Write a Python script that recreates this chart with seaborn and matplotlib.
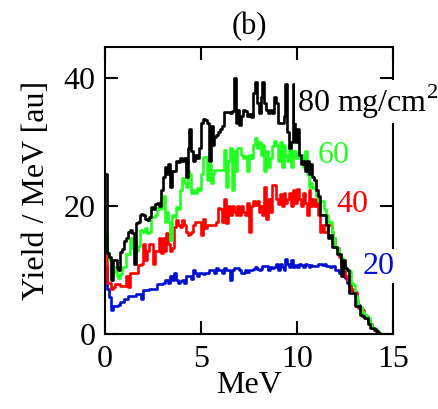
import numpy as np
import pandas as pd
import matplotlib
matplotlib.use("Agg")
import matplotlib.pyplot as plt
import seaborn as sns

# Energy bin starts (MeV), 0.1 MeV bins
energy = [round(0.1 * i, 1) for i in range(143)]

yield_80 = [25, 12.6, 12, 8.4, 11.6, 11.6, 10.3, 10, 12.8, 13.2,
            14.5, 15, 16, 16.3, 15.8, 11, 17.3, 17.5, 18.6, 18.8,
            18.6, 18, 17.8, 18.2, 19.8, 19.5, 20.3, 20.5, 20, 22.5,
            24.5, 26, 25, 26.5, 23, 25.5, 25.5, 27, 26.8, 27.5,
            27, 27.5, 24.5, 29, 32, 28.5, 27, 28, 27.5, 29,
            33, 33.5, 33.4, 33, 27, 32.5, 29.5, 30.8, 31, 31.5,
            32, 32.5, 34.7, 34.7, 34.7, 34.5, 34.8, 40, 33, 35,
            32.6, 34, 35, 34.8, 34, 34.3, 33.8, 37.6, 39.4, 36,
            34.5, 37, 39.4, 36, 35, 34.5, 35, 34.5, 37, 36,
            33, 33, 33, 34, 39, 31.6, 29, 30, 39, 30,
            32, 28, 26.5, 27, 25.5, 27, 25, 26.5, 24.5, 24,
            22.5, 21.5, 18.6, 18.6, 18.6, 17, 15, 15.5, 13.6, 13.6,
            13.6, 12.5, 12.5, 9, 11.5, 10.3, 10, 6.4, 6.4, 6.4,
            4.3, 4.3, 4.3, 3, 2.8, 2.5, 2.5, 1.5, 1, 1,
            0.8, 0.5, 0.2]

yield_60 = [15.4, 12.6, 11.6, 11.6, 10.5, 9.7, 9, 8.8, 9.3, 10.5,
            10.5, 12.5, 12.5, 15, 13.5, 14.3, 13, 13.8, 16.2, 16.2,
            16, 16.5, 15.8, 16, 18.3, 18.3, 18.5, 19.7, 19.5, 19.7,
            21.6, 17.5, 19, 17.5, 14.7, 18.5, 18.3, 19.8, 19.5, 22.5,
            24.4, 23.5, 23, 25.5, 25, 22, 22.5, 22, 22.8, 22.5,
            25, 27.6, 27.6, 24, 26.5, 23.5, 25, 25.6, 25.6, 25.6,
            25.6, 25.6, 28.7, 23, 27, 29, 22.5, 28.6, 25.5, 29,
            29, 28, 27.5, 27.8, 25.5, 28, 27.5, 29.5, 30.6, 29,
            30, 28, 29.5, 25.5, 28.5, 26, 27.5, 29.3, 30.2, 29.5,
            27, 30, 26, 29.5, 28, 27, 29.5, 26, 28.5, 27.5,
            28.6, 27.5, 28, 26, 28.5, 25, 23, 23.5, 22.8, 23,
            21.5, 20.8, 20.8, 20.8, 19.5, 18.6, 17.5, 17.5, 16, 15,
            13.6, 13.5, 12.5, 11.8, 10.8, 10.2, 10, 9.8, 8, 7.7,
            6, 5.5, 4.4, 4.2, 3.5, 3, 2.8, 2.5, 1.5, 1,
            1, 0.7, 0.3]

yield_40 = [15, 8, 8, 7, 7.3, 7.8, 7.8, 7.8, 7.5, 7.5,
            7.5, 9, 7.3, 9.5, 9.5, 9.5, 9.5, 10.8, 10.8, 11,
            14, 11.5, 13, 14, 14, 11, 13, 13, 15, 12.6,
            15, 13, 15.8, 14, 13, 13.5, 16.7, 17.8, 17, 16.7,
            17.8, 17, 16, 15.4, 15.6, 16, 17, 17.5, 17.5, 17.5,
            15.4, 17.9, 16.5, 17, 17, 17, 17, 17, 17.5, 19.7,
            19.5, 17.5, 21, 17.3, 20, 18.6, 20, 19, 18.6, 20,
            18.6, 20, 19, 18.6, 20.5, 16, 20, 20.8, 20.2, 20.8,
            19, 20, 18.6, 23, 18, 21, 19, 23.2, 23.2, 21,
            20.3, 21.8, 20, 22, 20.5, 21, 22, 20, 22.5, 20.5,
            22.7, 21, 20, 22, 20.5, 18.6, 22.5, 20, 21, 20,
            21, 18.5, 16, 17, 16, 16, 17, 17, 16, 15,
            13.6, 13.5, 12, 11, 9.8, 9, 8.5, 8, 7, 6.5,
            6.5, 5, 4, 3.7, 3.7, 2.8, 2.8, 2, 1.5, 1,
            0.7, 0.4, 0.2]

yield_20 = [10.5, 7, 5.8, 3.75, 4.4, 4.4, 4.4, 4.6, 5, 5,
            5.5, 5.5, 6, 6, 6, 6, 6.3, 6.3, 6.3, 5.5,
            6.8, 6.8, 6.8, 7, 7, 7, 7, 7.8, 7.8, 7.8,
            8, 8.5, 8.5, 8, 9, 8.5, 9.5, 8.5, 8, 8.2,
            8.5, 7.9, 9, 9, 9, 8.6, 10, 9.5, 9, 9.5,
            9.5, 9.3, 9.5, 9.5, 10, 10, 10, 9.5, 10.3, 10,
            10, 9.5, 10.3, 10, 10, 8.5, 10, 10.3, 10.3, 10.3,
            10, 9.5, 9.5, 10, 9.7, 10, 10, 10.2, 10.5, 10.2,
            10, 10.2, 10.6, 10.6, 10.6, 10, 10.4, 10.3, 10.5, 11,
            10, 11, 10.4, 10, 11.7, 11, 10.5, 11.5, 10.5, 10.8,
            10.5, 11, 10.8, 10.5, 11, 10.8, 10.5, 10.8, 10.6, 10.6,
            10.6, 11, 11, 10.8, 11, 10.6, 10.6, 10.4, 10.6, 10.6,
            10, 10, 9.6, 9.5, 9, 8.8, 8, 7.5, 6.8, 6.5,
            6, 5, 4.5, 4, 3.5, 3, 2.5, 2, 1.5, 1,
            0.7, 0.4, 0.2]

series_labels = ["20", "40", "60", "80 mg/cm$^2$"]
series_colors = ["#0010d0", "#ff0000", "#22ff22", "#000000"]
x_ticks = [0, 5, 10, 15]
y_ticks = [0, 20, 40]

sns.set_theme(style="ticks")
plt.rcParams["font.family"] = ["Liberation Serif", "DejaVu Serif"]
plt.rcParams["mathtext.fontset"] = "custom"
plt.rcParams["mathtext.rm"] = "Liberation Serif"
plt.rcParams["text.color"] = "black"
plt.rcParams["axes.labelcolor"] = "black"
plt.rcParams["xtick.color"] = "black"
plt.rcParams["ytick.color"] = "black"

FS = 23

fig = plt.figure(figsize=(4.39, 4.09), dpi=100)
ax = fig.add_axes([105 / 439, 1 - 334 / 409, 288 / 439, 287 / 409])

edges = energy + [round(energy[-1] + 0.1, 1)]
for vals, col in zip([yield_20, yield_40, yield_60, yield_80], series_colors):
    df = pd.DataFrame({"E": edges, "Y": list(vals) + [0.0]})
    sns.lineplot(data=df, x="E", y="Y", ax=ax, color=col, lw=1.9,
                 drawstyle="steps-post", estimator=None, sort=False)

ax.set_xlim(0, 15)
ax.set_ylim(0, 44.8)
ax.set_xticks(x_ticks)
ax.set_yticks(y_ticks)
ax.set_xticklabels([str(t) for t in x_ticks])
ax.set_yticklabels([str(t) for t in y_ticks])
ax.tick_params(direction="in", length=9.5, width=1.5, labelsize=FS,
               top=True, right=True, pad=7, colors="black")
ax.tick_params(axis="x", pad=8)
for s in ax.spines.values():
    s.set_linewidth(1.5)
    s.set_color("black")
ax.set_xlabel("MeV", fontsize=FS, labelpad=-2, color="black")
ax.set_ylabel("Yield / MeV [au]", fontsize=FS, labelpad=9, color="black")
ax.set_title("(b)", fontsize=FS - 1, pad=9, color="black")

bbox = dict(facecolor="white", edgecolor="none", pad=1.5)
label_pos = [(13.4, 10.6), (12.05, 20.2), (11.05, 27.8), (10.0, 36.3)]
for lab, col, (ex, ey) in zip(series_labels, series_colors, label_pos):
    ax.text(ex, ey, lab, color=col, fontsize=FS, ha="left", va="center",
            bbox=bbox, zorder=5, clip_on=False)

fig.savefig("out.png", dpi=100)
